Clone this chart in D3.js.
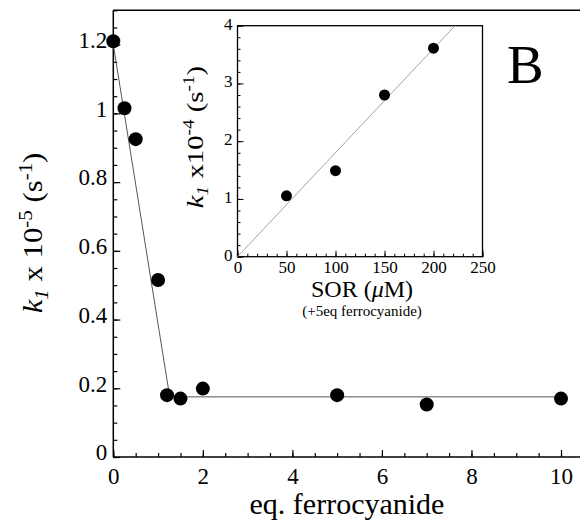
<!DOCTYPE html>
<html lang="en">
<head>
  <meta charset="UTF-8">
  <title>k1 vs eq. ferrocyanide</title>
  <script src="https://d3js.org/d3.v7.min.js"></script>
  <style>
    body { margin: 0; background: #fff; }
    text { font-family: "Liberation Serif", "Times New Roman", serif; fill: #000; }
    .axis path, .axis line { stroke: #000; fill: none; }
  </style>
</head>
<body>
  <svg id="chart" width="580" height="525"></svg>
  <script>
    // main plot data: k1 (x10^-5 s^-1) vs equivalents of ferrocyanide
    const eqFerro = [0, 0.25, 0.5, 1.0, 1.2, 1.5, 2, 5, 7, 10];
    const k1Main = [1.21, 1.015, 0.925, 0.515, 0.18, 0.17, 0.199, 0.18, 0.153, 0.17];
    // two-segment fit drawn through the main data
    const fitMainX = [0, 1.26, 10];
    const fitMainY = [1.2, 0.175, 0.175];

    // inset data: k1 (x10^-4 s^-1) vs SOR concentration
    const sorConc = [50, 100, 150, 200];
    const k1Inset = [1.055, 1.49, 2.8, 3.61];
    const fitInsetX = [0, 222];
    const fitInsetY = [0, 4];

    // ticks
    const mainXTicks = [0, 2, 4, 6, 8, 10];
    const mainYTicks = [0, 0.2, 0.4, 0.6, 0.8, 1, 1.2];
    const mainYLabels = ["0", "0.2", "0.4", "0.6", "0.8", "1", "1.2"];
    const insetXTicks = [0, 50, 100, 150, 200, 250];
    const insetYTicks = [0, 1, 2, 3, 4];

    const svg = d3.select("#chart");

    // ---------- main plot ----------
    const x = d3.scaleLinear().domain([0, 10.5]).range([113.3, 583.4]);
    const y = d3.scaleLinear().domain([0, 1.3]).range([457, 10.3]);

    // top frame line
    svg.append("line")
      .attr("x1", x(0)).attr("x2", 580)
      .attr("y1", y(1.3)).attr("y2", y(1.3))
      .attr("stroke", "#000").attr("stroke-width", 1.5);

    // minor ticks
    svg.append("g").attr("class", "axis")
      .attr("transform", "translate(0," + y(0) + ")")
      .call(d3.axisBottom(x).tickValues(d3.range(0, 10.51, 0.5)).tickSizeInner(-4).tickSizeOuter(0).tickFormat(""))
      .call(g => g.select(".domain").remove())
      .selectAll("line").attr("stroke-width", 1.2);
    svg.append("g").attr("class", "axis")
      .attr("transform", "translate(" + x(0) + ",0)")
      .call(d3.axisLeft(y).tickValues(d3.range(0, 1.31, 0.05)).tickSizeInner(-4).tickSizeOuter(0).tickFormat(""))
      .call(g => g.select(".domain").remove())
      .selectAll("line").attr("stroke-width", 1.2);

    // major ticks + labels
    const xAxis = svg.append("g").attr("class", "axis")
      .attr("transform", "translate(0," + y(0) + ")")
      .call(d3.axisBottom(x).tickValues(mainXTicks).tickSizeInner(-7).tickSizeOuter(0).tickPadding(10)
        .tickFormat(d3.format("d")));
    xAxis.select(".domain").attr("d", "M" + x(0) + ",0H580").attr("stroke-width", 1.5);
    xAxis.selectAll("line").attr("stroke-width", 1.2);
    xAxis.selectAll("text").attr("font-size", 23).attr("dy", "0.74em");

    const yAxis = svg.append("g").attr("class", "axis")
      .attr("transform", "translate(" + x(0) + ",0)")
      .call(d3.axisLeft(y).tickValues(mainYTicks).tickSizeInner(-7).tickSizeOuter(0).tickPadding(6)
        .tickFormat((d, i) => mainYLabels[i]));
    yAxis.select(".domain").attr("d", "M0," + y(0) + "V" + y(1.3)).attr("stroke-width", 1.5);
    yAxis.selectAll("line").attr("stroke-width", 1.2);
    yAxis.selectAll("text").attr("font-size", 23).attr("dy", "0.12em");

    // fit line
    svg.append("path")
      .datum(fitMainX.map((d, i) => [d, fitMainY[i]]))
      .attr("d", d3.line().x(d => x(d[0])).y(d => y(d[1])))
      .attr("fill", "none").attr("stroke", "#555").attr("stroke-width", 1);

    // points
    svg.selectAll(".dot")
      .data(eqFerro.map((d, i) => [d, k1Main[i]]))
      .enter().append("circle")
      .attr("class", "dot")
      .attr("cx", d => x(d[0])).attr("cy", d => y(d[1]))
      .attr("r", 7).attr("fill", "#000");

    // axis titles
    svg.append("text")
      .attr("x", 347).attr("y", 514)
      .attr("text-anchor", "middle").attr("font-size", 30)
      .text("eq. ferrocyanide");

    const yTitle = svg.append("text")
      .attr("transform", "translate(42,233) rotate(-90) scale(1.1,1)")
      .attr("text-anchor", "middle").attr("font-size", 28);
    yTitle.append("tspan").attr("font-style", "italic").text("k");
    yTitle.append("tspan").attr("font-style", "italic").attr("font-size", 19).attr("baseline-shift", "-30%").text("1");
    yTitle.append("tspan").text(" x 10");
    yTitle.append("tspan").attr("font-size", 19).attr("baseline-shift", "super").text("-5");
    yTitle.append("tspan").text(" (s");
    yTitle.append("tspan").attr("font-size", 19).attr("baseline-shift", "super").text("-1");
    yTitle.append("tspan").text(")");

    // panel letter
    svg.append("text")
      .attr("x", 507).attr("y", 83)
      .attr("font-size", 55)
      .text("B");

    // ---------- inset ----------
    const xi = d3.scaleLinear().domain([0, 250]).range([237.5, 482.5]);
    const yi = d3.scaleLinear().domain([0, 4]).range([256.7, 25.7]);

    svg.append("rect")
      .attr("x", xi(0)).attr("y", yi(4))
      .attr("width", xi(250) - xi(0)).attr("height", yi(0) - yi(4))
      .attr("fill", "#fff").attr("stroke", "#000").attr("stroke-width", 1.3);

    svg.append("g").attr("class", "axis")
      .attr("transform", "translate(0," + yi(0) + ")")
      .call(d3.axisBottom(xi).tickValues(d3.range(0, 251, 10)).tickSizeInner(-3).tickSizeOuter(0).tickFormat(""))
      .call(g => g.select(".domain").remove());
    svg.append("g").attr("class", "axis")
      .attr("transform", "translate(" + xi(0) + ",0)")
      .call(d3.axisLeft(yi).tickValues(d3.range(0, 4.01, 0.2)).tickSizeInner(-3).tickSizeOuter(0).tickFormat(""))
      .call(g => g.select(".domain").remove());

    const xiAxis = svg.append("g").attr("class", "axis")
      .attr("transform", "translate(0," + yi(0) + ")")
      .call(d3.axisBottom(xi).tickValues(insetXTicks).tickSizeInner(-6).tickSizeOuter(0).tickPadding(4)
        .tickFormat(d3.format("d")));
    xiAxis.select(".domain").remove();
    xiAxis.selectAll("text").attr("font-size", 17).attr("dy", "0.75em");

    const yiAxis = svg.append("g").attr("class", "axis")
      .attr("transform", "translate(" + xi(0) + ",0)")
      .call(d3.axisLeft(yi).tickValues(insetYTicks).tickSizeInner(-6).tickSizeOuter(0).tickPadding(5)
        .tickFormat(d3.format("d")));
    yiAxis.select(".domain").remove();
    yiAxis.selectAll("text").attr("font-size", 17).attr("dy", "0.2em");

    svg.append("path")
      .datum(fitInsetX.map((d, i) => [d, fitInsetY[i]]))
      .attr("d", d3.line().x(d => xi(d[0])).y(d => yi(d[1])))
      .attr("fill", "none").attr("stroke", "#999").attr("stroke-width", 0.9);

    svg.selectAll(".idot")
      .data(sorConc.map((d, i) => [d, k1Inset[i]]))
      .enter().append("circle")
      .attr("class", "idot")
      .attr("cx", d => xi(d[0])).attr("cy", d => yi(d[1]))
      .attr("r", 5.5).attr("fill", "#000");

    const xiTitle = svg.append("text")
      .attr("x", 362).attr("y", 297)
      .attr("text-anchor", "middle").attr("font-size", 24);
    xiTitle.append("tspan").text("SOR (");
    xiTitle.append("tspan").attr("font-style", "italic").text("\u03bc");
    xiTitle.append("tspan").text("M)");

    svg.append("text")
      .attr("x", 362).attr("y", 316)
      .attr("text-anchor", "middle").attr("font-size", 15)
      .text("(+5eq ferrocyanide)");

    const yiTitle = svg.append("text")
      .attr("transform", "translate(203,137) rotate(-90) scale(1.2,1)")
      .attr("text-anchor", "middle").attr("font-size", 24);
    yiTitle.append("tspan").attr("font-style", "italic").text("k");
    yiTitle.append("tspan").attr("font-style", "italic").attr("font-size", 16).attr("baseline-shift", "-30%").text("1");
    yiTitle.append("tspan").text(" x10");
    yiTitle.append("tspan").attr("font-size", 16).attr("baseline-shift", "super").text("-4");
    yiTitle.append("tspan").text(" (s");
    yiTitle.append("tspan").attr("font-size", 16).attr("baseline-shift", "super").text("-1");
    yiTitle.append("tspan").text(")");
  </script>
</body>
</html>
